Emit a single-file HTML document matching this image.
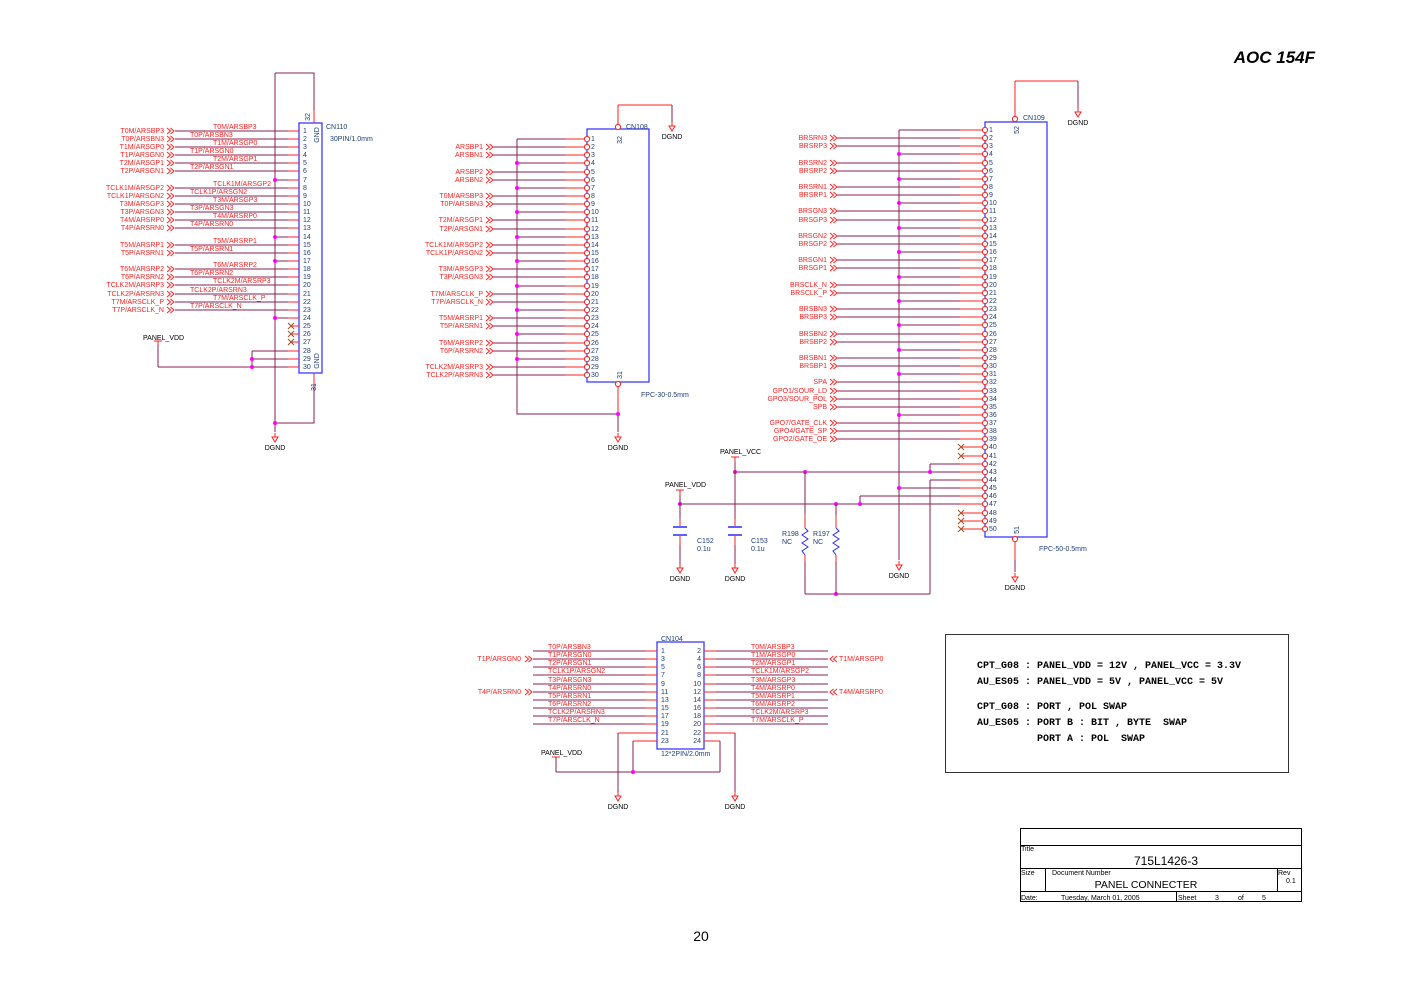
<!DOCTYPE html>
<html><head><meta charset="utf-8"><style>
html,body{margin:0;padding:0;background:#fff;}
svg{display:block;}
.w{stroke:#8a1f52;stroke-width:1;fill:none}
.r{stroke:#ff2020;stroke-width:1;fill:none}
.b{stroke:#3a3aff;stroke-width:1.3;fill:none}
text{font-family:"Liberation Sans",sans-serif;font-size:7px}
.t{fill:#ff2020}
.n{fill:#1f3c78}
.k{fill:#000}
.d{fill:#ff00ff}
.m{font-family:"Liberation Mono",monospace;font-weight:bold;font-size:10px;fill:#000}
</style></head><body>
<svg width="1404" height="992" viewBox="0 0 1404 992" xmlns="http://www.w3.org/2000/svg">
<defs>
<g id="ch" class="r"><path d="M0,-3 L3.5,0 L0,3 M3.5,-3 L7,0 L3.5,3"/></g>
<g id="chl" class="r"><path d="M0,-3 L-3.5,0 L0,3 M-3.5,-3 L-7,0 L-3.5,3"/></g>
<g id="gnd"><path class="r" d="M0,-4 L0,0 M-3,0 L3,0 L0,5 Z"/><text class="k" x="0" y="13" text-anchor="middle">DGND</text></g>
<g id="x"><path d="M-3,-3 L3,3 M-3,3 L3,-3" stroke="#a05020" stroke-width="1"/></g>
<circle id="pc" r="2.6" fill="#fff" stroke="#ff2020" stroke-width="1"/>
</defs>

<text x="1315" y="63" text-anchor="end" style="font-size:17px;font-weight:bold;font-style:italic">AOC  154F</text>
<text x="701" y="941" text-anchor="middle" style="font-size:14px">20</text>

<!-- ================= CN110 ================= -->
<rect class="b" x="299" y="123" width="23" height="250"/>
<path class="w" d="M275,73 L314,73 L314,110 M275,73 L275,432 M314,385 L314,423 L275,423"/>
<path class="r" d="M314,110 L314,123 M314,373 L314,385"/>
<use href="#gnd" x="275" y="437"/>
<circle class="d" cx="275" cy="423" r="2"/>
<text class="n" x="310" y="117" transform="rotate(-90 310 117)" text-anchor="middle">32</text>
<text class="n" x="316" y="387" transform="rotate(-90 316 387)" text-anchor="middle">31</text>
<text class="n" x="319" y="135" transform="rotate(-90 319 135)" text-anchor="middle">GND</text>
<text class="n" x="319" y="361" transform="rotate(-90 319 361)" text-anchor="middle">GND</text>
<text class="n" x="326" y="129">CN110</text>
<text class="n" x="330" y="141">30PIN/1.0mm</text>
<g class="w">
<path d="M175,131H288M175,139H288M175,147H288M175,155H288M175,163H288M175,171H288M275,180H288M175,188H288M175,196H288M175,204H288M175,212H288M175,220H288M175,228H288M275,237H288M175,245H288M175,253H288M275,261H288M175,269H288M175,277H288M175,285H288M175,294H288M175,302H288M175,310H288M275,318H288M252,351H288M252,359H288M158,367H288M252,351V367M158,345V367"/>
</g>
<path class="r" d="M288,131H299M288,139H299M288,147H299M288,155H299M288,163H299M288,171H299M288,180H299M288,188H299M288,196H299M288,204H299M288,212H299M288,220H299M288,228H299M288,237H299M288,245H299M288,253H299M288,261H299M288,269H299M288,277H299M288,285H299M288,294H299M288,302H299M288,310H299M288,318H299M291,326H299M291,334H299M291,342H299M288,351H299M288,359H299M288,367H299M154,341H162M158,341V345"/>
<use href="#x" x="291" y="326"/><use href="#x" x="291" y="334"/><use href="#x" x="291" y="342"/>
<g class="d"><circle cx="275" cy="180" r="2"/><circle cx="275" cy="237" r="2"/><circle cx="275" cy="261" r="2"/><circle cx="275" cy="318" r="2"/><circle cx="252" cy="359" r="2"/><circle cx="252" cy="367" r="2"/></g>
<text class="k" x="143" y="340">PANEL_VDD</text>
<g class="n">
<text x="303" y="133">1</text><text x="303" y="141">2</text><text x="303" y="149">3</text><text x="303" y="157">4</text><text x="303" y="165">5</text><text x="303" y="173">6</text><text x="303" y="182">7</text><text x="303" y="190">8</text><text x="303" y="198">9</text><text x="303" y="206">10</text><text x="303" y="214">11</text><text x="303" y="222">12</text><text x="303" y="230">13</text><text x="303" y="239">14</text><text x="303" y="247">15</text><text x="303" y="255">16</text><text x="303" y="263">17</text><text x="303" y="271">18</text><text x="303" y="279">19</text><text x="303" y="287">20</text><text x="303" y="296">21</text><text x="303" y="304">22</text><text x="303" y="312">23</text><text x="303" y="320">24</text><text x="303" y="328">25</text><text x="303" y="336">26</text><text x="303" y="344">27</text><text x="303" y="353">28</text><text x="303" y="361">29</text><text x="303" y="369">30</text>
</g>
<g>
<use href="#ch" x="167" y="131"/><use href="#ch" x="167" y="139"/><use href="#ch" x="167" y="147"/><use href="#ch" x="167" y="155"/><use href="#ch" x="167" y="163"/><use href="#ch" x="167" y="171"/><use href="#ch" x="167" y="188"/><use href="#ch" x="167" y="196"/><use href="#ch" x="167" y="204"/><use href="#ch" x="167" y="212"/><use href="#ch" x="167" y="220"/><use href="#ch" x="167" y="228"/><use href="#ch" x="167" y="245"/><use href="#ch" x="167" y="253"/><use href="#ch" x="167" y="269"/><use href="#ch" x="167" y="277"/><use href="#ch" x="167" y="285"/><use href="#ch" x="167" y="294"/><use href="#ch" x="167" y="302"/><use href="#ch" x="167" y="310"/>
</g>
<g class="t" text-anchor="end">
<text x="164" y="133">T0M/ARSBP3</text><text x="164" y="141">T0P/ARSBN3</text><text x="164" y="149">T1M/ARSGP0</text><text x="164" y="157">T1P/ARSGN0</text><text x="164" y="165">T2M/ARSGP1</text><text x="164" y="173">T2P/ARSGN1</text><text x="164" y="190">TCLK1M/ARSGP2</text><text x="164" y="198">TCLK1P/ARSGN2</text><text x="164" y="206">T3M/ARSGP3</text><text x="164" y="214">T3P/ARSGN3</text><text x="164" y="222">T4M/ARSRP0</text><text x="164" y="230">T4P/ARSRN0</text><text x="164" y="247">T5M/ARSRP1</text><text x="164" y="255">T5P/ARSRN1</text><text x="164" y="271">T6M/ARSRP2</text><text x="164" y="279">T6P/ARSRN2</text><text x="164" y="287">TCLK2M/ARSRP3</text><text x="164" y="296">TCLK2P/ARSRN3</text><text x="164" y="304">T7M/ARSCLK_P</text><text x="164" y="312">T7P/ARSCLK_N</text>
</g>
<g class="t">
<text x="213" y="129">T0M/ARSBP3</text><text x="190" y="137">T0P/ARSBN3</text><text x="213" y="145">T1M/ARSGP0</text><text x="190" y="153">T1P/ARSGN0</text><text x="213" y="161">T2M/ARSGP1</text><text x="190" y="169">T2P/ARSGN1</text><text x="213" y="186">TCLK1M/ARSGP2</text><text x="190" y="194">TCLK1P/ARSGN2</text><text x="213" y="202">T3M/ARSGP3</text><text x="190" y="210">T3P/ARSGN3</text><text x="213" y="218">T4M/ARSRP0</text><text x="190" y="226">T4P/ARSRN0</text><text x="213" y="243">T5M/ARSRP1</text><text x="190" y="251">T5P/ARSRN1</text><text x="213" y="267">T6M/ARSRP2</text><text x="190" y="275">T6P/ARSRN2</text><text x="213" y="283">TCLK2M/ARSRP3</text><text x="190" y="292">TCLK2P/ARSRN3</text><text x="213" y="300">T7M/ARSCLK_P</text><text x="190" y="308">T7P/ARSCLK_N</text>
</g>

<!-- ================= CN108 ================= -->
<rect class="b" x="587" y="129" width="62" height="253"/>
<path class="r" d="M618,105 L672,105 M618,105 L618,124 M618,387 L618,414"/>
<path class="w" d="M672,105 L672,122 M517,139 L517,414 L618,414 L618,432"/>
<use href="#gnd" x="672" y="126"/><use href="#gnd" x="618" y="437"/>
<use href="#pc" x="618" y="127"/><use href="#pc" x="618" y="384"/>
<circle class="d" cx="618" cy="414" r="2"/>
<text class="n" x="626" y="129">CN108</text>
<text class="n" x="641" y="397">FPC-30-0.5mm</text>
<text class="n" x="622" y="140" transform="rotate(-90 622 140)" text-anchor="middle">32</text>
<text class="n" x="622" y="375" transform="rotate(-90 622 375)" text-anchor="middle">31</text>
<path class="w" d="M517,139H565M493,147H565M493,155H565M517,163H565M493,172H565M493,180H565M517,188H565M493,196H565M493,204H565M517,212H565M493,220H565M493,229H565M517,237H565M493,245H565M493,253H565M517,261H565M493,269H565M493,277H565M517,286H565M493,294H565M493,302H565M517,310H565M493,318H565M493,326H565M517,334H565M493,343H565M493,351H565M517,359H565M493,367H565M493,375H565"/>
<path class="r" d="M565,139H584M565,147H584M565,155H584M565,163H584M565,172H584M565,180H584M565,188H584M565,196H584M565,204H584M565,212H584M565,220H584M565,229H584M565,237H584M565,245H584M565,253H584M565,261H584M565,269H584M565,277H584M565,286H584M565,294H584M565,302H584M565,310H584M565,318H584M565,326H584M565,334H584M565,343H584M565,351H584M565,359H584M565,367H584M565,375H584"/>
<g>
<use href="#pc" x="587" y="139"/><use href="#pc" x="587" y="147"/><use href="#pc" x="587" y="155"/><use href="#pc" x="587" y="163"/><use href="#pc" x="587" y="172"/><use href="#pc" x="587" y="180"/><use href="#pc" x="587" y="188"/><use href="#pc" x="587" y="196"/><use href="#pc" x="587" y="204"/><use href="#pc" x="587" y="212"/><use href="#pc" x="587" y="220"/><use href="#pc" x="587" y="229"/><use href="#pc" x="587" y="237"/><use href="#pc" x="587" y="245"/><use href="#pc" x="587" y="253"/><use href="#pc" x="587" y="261"/><use href="#pc" x="587" y="269"/><use href="#pc" x="587" y="277"/><use href="#pc" x="587" y="286"/><use href="#pc" x="587" y="294"/><use href="#pc" x="587" y="302"/><use href="#pc" x="587" y="310"/><use href="#pc" x="587" y="318"/><use href="#pc" x="587" y="326"/><use href="#pc" x="587" y="334"/><use href="#pc" x="587" y="343"/><use href="#pc" x="587" y="351"/><use href="#pc" x="587" y="359"/><use href="#pc" x="587" y="367"/><use href="#pc" x="587" y="375"/>
</g>
<g class="d"><circle cx="517" cy="163" r="2"/><circle cx="517" cy="188" r="2"/><circle cx="517" cy="212" r="2"/><circle cx="517" cy="237" r="2"/><circle cx="517" cy="261" r="2"/><circle cx="517" cy="286" r="2"/><circle cx="517" cy="310" r="2"/><circle cx="517" cy="334" r="2"/><circle cx="517" cy="359" r="2"/></g>
<g class="n">
<text x="591" y="141">1</text><text x="591" y="149">2</text><text x="591" y="157">3</text><text x="591" y="165">4</text><text x="591" y="174">5</text><text x="591" y="182">6</text><text x="591" y="190">7</text><text x="591" y="198">8</text><text x="591" y="206">9</text><text x="591" y="214">10</text><text x="591" y="222">11</text><text x="591" y="231">12</text><text x="591" y="239">13</text><text x="591" y="247">14</text><text x="591" y="255">15</text><text x="591" y="263">16</text><text x="591" y="271">17</text><text x="591" y="279">18</text><text x="591" y="288">19</text><text x="591" y="296">20</text><text x="591" y="304">21</text><text x="591" y="312">22</text><text x="591" y="320">23</text><text x="591" y="328">24</text><text x="591" y="336">25</text><text x="591" y="345">26</text><text x="591" y="353">27</text><text x="591" y="361">28</text><text x="591" y="369">29</text><text x="591" y="377">30</text>
</g>
<g>
<use href="#ch" x="486" y="147"/><use href="#ch" x="486" y="155"/><use href="#ch" x="486" y="172"/><use href="#ch" x="486" y="180"/><use href="#ch" x="486" y="196"/><use href="#ch" x="486" y="204"/><use href="#ch" x="486" y="220"/><use href="#ch" x="486" y="229"/><use href="#ch" x="486" y="245"/><use href="#ch" x="486" y="253"/><use href="#ch" x="486" y="269"/><use href="#ch" x="486" y="277"/><use href="#ch" x="486" y="294"/><use href="#ch" x="486" y="302"/><use href="#ch" x="486" y="318"/><use href="#ch" x="486" y="326"/><use href="#ch" x="486" y="343"/><use href="#ch" x="486" y="351"/><use href="#ch" x="486" y="367"/><use href="#ch" x="486" y="375"/>
</g>
<g class="t" text-anchor="end">
<text x="483" y="149">ARSBP1</text><text x="483" y="157">ARSBN1</text><text x="483" y="174">ARSBP2</text><text x="483" y="182">ARSBN2</text><text x="483" y="198">T0M/ARSBP3</text><text x="483" y="206">T0P/ARSBN3</text><text x="483" y="222">T2M/ARSGP1</text><text x="483" y="231">T2P/ARSGN1</text><text x="483" y="247">TCLK1M/ARSGP2</text><text x="483" y="255">TCLK1P/ARSGN2</text><text x="483" y="271">T3M/ARSGP3</text><text x="483" y="279">T3P/ARSGN3</text><text x="483" y="296">T7M/ARSCLK_P</text><text x="483" y="304">T7P/ARSCLK_N</text><text x="483" y="320">T5M/ARSRP1</text><text x="483" y="328">T5P/ARSRN1</text><text x="483" y="345">T6M/ARSRP2</text><text x="483" y="353">T6P/ARSRN2</text><text x="483" y="369">TCLK2M/ARSRP3</text><text x="483" y="377">TCLK2P/ARSRN3</text>
</g>

<!-- ================= CN109 ================= -->
<rect class="b" x="985" y="122" width="62" height="415"/>
<path class="r" d="M1015,81 L1078,81 M1015,81 L1015,117 M1015,542 L1015,560"/>
<path class="w" d="M1078,81 L1078,108 M1015,560 L1015,572"/>
<use href="#gnd" x="1078" y="112"/><use href="#gnd" x="1015" y="577"/>
<use href="#pc" x="1015" y="119"/><use href="#pc" x="1015" y="539"/>
<text class="n" x="1023" y="120">CN109</text>
<text class="n" x="1039" y="551">FPC-50-0.5mm</text>
<text class="n" x="1019" y="130" transform="rotate(-90 1019 130)" text-anchor="middle">52</text>
<text class="n" x="1019" y="530" transform="rotate(-90 1019 530)" text-anchor="middle">51</text>
<path class="w" d="M899,130 L899,560 M899,130H960M837,138H960M837,146H960M899,154H960M837,163H960M837,171H960M899,179H960M837,187H960M837,195H960M899,203H960M837,211H960M837,220H960M899,228H960M837,236H960M837,244H960M899,252H960M837,260H960M837,268H960M899,277H960M837,285H960M837,293H960M899,301H960M837,309H960M837,317H960M899,325H960M837,334H960M837,342H960M899,350H960M837,358H960M837,366H960M899,374H960M837,382H960M837,391H960M837,399H960M837,407H960M899,415H960M837,423H960M837,431H960M837,439H960M930,464H960M930,464V472M735,472H960M930,480H960M930,480V594M805,594H930M899,488H960M860,496H960M860,496V504M680,504H960"/>
<path class="r" d="M960,130H982M960,138H982M960,146H982M960,154H982M960,163H982M960,171H982M960,179H982M960,187H982M960,195H982M960,203H982M960,211H982M960,220H982M960,228H982M960,236H982M960,244H982M960,252H982M960,260H982M960,268H982M960,277H982M960,285H982M960,293H982M960,301H982M960,309H982M960,317H982M960,325H982M960,334H982M960,342H982M960,350H982M960,358H982M960,366H982M960,374H982M960,382H982M960,391H982M960,399H982M960,407H982M960,415H982M960,423H982M960,431H982M960,439H982M962,447H982M962,456H982M960,464H982M960,472H982M960,480H982M960,488H982M960,496H982M960,504H982M962,513H982M962,521H982M962,529H982"/>
<use href="#x" x="961" y="447"/><use href="#x" x="961" y="456"/><use href="#x" x="961" y="513"/><use href="#x" x="961" y="521"/><use href="#x" x="961" y="529"/>
<g>
<use href="#pc" x="985" y="130"/><use href="#pc" x="985" y="138"/><use href="#pc" x="985" y="146"/><use href="#pc" x="985" y="154"/><use href="#pc" x="985" y="163"/><use href="#pc" x="985" y="171"/><use href="#pc" x="985" y="179"/><use href="#pc" x="985" y="187"/><use href="#pc" x="985" y="195"/><use href="#pc" x="985" y="203"/><use href="#pc" x="985" y="211"/><use href="#pc" x="985" y="220"/><use href="#pc" x="985" y="228"/><use href="#pc" x="985" y="236"/><use href="#pc" x="985" y="244"/><use href="#pc" x="985" y="252"/><use href="#pc" x="985" y="260"/><use href="#pc" x="985" y="268"/><use href="#pc" x="985" y="277"/><use href="#pc" x="985" y="285"/><use href="#pc" x="985" y="293"/><use href="#pc" x="985" y="301"/><use href="#pc" x="985" y="309"/><use href="#pc" x="985" y="317"/><use href="#pc" x="985" y="325"/><use href="#pc" x="985" y="334"/><use href="#pc" x="985" y="342"/><use href="#pc" x="985" y="350"/><use href="#pc" x="985" y="358"/><use href="#pc" x="985" y="366"/><use href="#pc" x="985" y="374"/><use href="#pc" x="985" y="382"/><use href="#pc" x="985" y="391"/><use href="#pc" x="985" y="399"/><use href="#pc" x="985" y="407"/><use href="#pc" x="985" y="415"/><use href="#pc" x="985" y="423"/><use href="#pc" x="985" y="431"/><use href="#pc" x="985" y="439"/><use href="#pc" x="985" y="447"/><use href="#pc" x="985" y="456"/><use href="#pc" x="985" y="464"/><use href="#pc" x="985" y="472"/><use href="#pc" x="985" y="480"/><use href="#pc" x="985" y="488"/><use href="#pc" x="985" y="496"/><use href="#pc" x="985" y="504"/><use href="#pc" x="985" y="513"/><use href="#pc" x="985" y="521"/><use href="#pc" x="985" y="529"/>
</g>
<g class="d"><circle cx="899" cy="154" r="2"/><circle cx="899" cy="179" r="2"/><circle cx="899" cy="203" r="2"/><circle cx="899" cy="228" r="2"/><circle cx="899" cy="252" r="2"/><circle cx="899" cy="277" r="2"/><circle cx="899" cy="301" r="2"/><circle cx="899" cy="325" r="2"/><circle cx="899" cy="350" r="2"/><circle cx="899" cy="374" r="2"/><circle cx="899" cy="415" r="2"/><circle cx="899" cy="488" r="2"/><circle cx="930" cy="472" r="2"/><circle cx="805" cy="472" r="2"/><circle cx="735" cy="472" r="2"/><circle cx="860" cy="504" r="2"/><circle cx="836" cy="504" r="2"/><circle cx="680" cy="504" r="2"/><circle cx="836" cy="594" r="2"/></g>
<g class="n">
<text x="989" y="132">1</text><text x="989" y="140">2</text><text x="989" y="148">3</text><text x="989" y="156">4</text><text x="989" y="165">5</text><text x="989" y="173">6</text><text x="989" y="181">7</text><text x="989" y="189">8</text><text x="989" y="197">9</text><text x="989" y="205">10</text><text x="989" y="213">11</text><text x="989" y="222">12</text><text x="989" y="230">13</text><text x="989" y="238">14</text><text x="989" y="246">15</text><text x="989" y="254">16</text><text x="989" y="262">17</text><text x="989" y="270">18</text><text x="989" y="279">19</text><text x="989" y="287">20</text><text x="989" y="295">21</text><text x="989" y="303">22</text><text x="989" y="311">23</text><text x="989" y="319">24</text><text x="989" y="327">25</text><text x="989" y="336">26</text><text x="989" y="344">27</text><text x="989" y="352">28</text><text x="989" y="360">29</text><text x="989" y="368">30</text><text x="989" y="376">31</text><text x="989" y="384">32</text><text x="989" y="393">33</text><text x="989" y="401">34</text><text x="989" y="409">35</text><text x="989" y="417">36</text><text x="989" y="425">37</text><text x="989" y="433">38</text><text x="989" y="441">39</text><text x="989" y="449">40</text><text x="989" y="458">41</text><text x="989" y="466">42</text><text x="989" y="474">43</text><text x="989" y="482">44</text><text x="989" y="490">45</text><text x="989" y="498">46</text><text x="989" y="506">47</text><text x="989" y="515">48</text><text x="989" y="523">49</text><text x="989" y="531">50</text>
</g>
<g>
<use href="#ch" x="830" y="138"/><use href="#ch" x="830" y="146"/><use href="#ch" x="830" y="163"/><use href="#ch" x="830" y="171"/><use href="#ch" x="830" y="187"/><use href="#ch" x="830" y="195"/><use href="#ch" x="830" y="211"/><use href="#ch" x="830" y="220"/><use href="#ch" x="830" y="236"/><use href="#ch" x="830" y="244"/><use href="#ch" x="830" y="260"/><use href="#ch" x="830" y="268"/><use href="#ch" x="830" y="285"/><use href="#ch" x="830" y="293"/><use href="#ch" x="830" y="309"/><use href="#ch" x="830" y="317"/><use href="#ch" x="830" y="334"/><use href="#ch" x="830" y="342"/><use href="#ch" x="830" y="358"/><use href="#ch" x="830" y="366"/><use href="#ch" x="830" y="382"/><use href="#ch" x="830" y="391"/><use href="#ch" x="830" y="399"/><use href="#ch" x="830" y="407"/><use href="#ch" x="830" y="423"/><use href="#ch" x="830" y="431"/><use href="#ch" x="830" y="439"/>
</g>
<g class="t" text-anchor="end">
<text x="827" y="140">BRSRN3</text><text x="827" y="148">BRSRP3</text><text x="827" y="165">BRSRN2</text><text x="827" y="173">BRSRP2</text><text x="827" y="189">BRSRN1</text><text x="827" y="197">BRSRP1</text><text x="827" y="213">BRSGN3</text><text x="827" y="222">BRSGP3</text><text x="827" y="238">BRSGN2</text><text x="827" y="246">BRSGP2</text><text x="827" y="262">BRSGN1</text><text x="827" y="270">BRSGP1</text><text x="827" y="287">BRSCLK_N</text><text x="827" y="295">BRSCLK_P</text><text x="827" y="311">BRSBN3</text><text x="827" y="319">BRSBP3</text><text x="827" y="336">BRSBN2</text><text x="827" y="344">BRSBP2</text><text x="827" y="360">BRSBN1</text><text x="827" y="368">BRSBP1</text><text x="827" y="384">SPA</text><text x="827" y="393">GPO1/SOUR_LD</text><text x="827" y="401">GPO3/SOUR_POL</text><text x="827" y="409">SPB</text><text x="827" y="425">GPO7/GATE_CLK</text><text x="827" y="433">GPO4/GATE_SP</text><text x="827" y="441">GPO2/GATE_OE</text>
</g>

<!-- power / caps / resistors -->
<text class="k" x="720" y="454">PANEL_VCC</text>
<text class="k" x="665" y="487">PANEL_VDD</text>
<path class="r" d="M731,457H739M735,457V462M676,490H684M680,490V495M680,519V526M680,536V545M735,519V526M735,536V545M805,515V528M805,555V562M836,515V528M836,555V562"/>
<path class="w" d="M735,462V519M680,495V519M735,545V564M680,545V564M805,472V515M805,562V594M836,504V515M836,562V594"/>
<path stroke="#2a2aff" stroke-width="1.5" d="M673,527H687M673,535H687M728,527H742M728,535H742"/>
<path stroke="#2a2aff" stroke-width="1" fill="none" d="M805,528 L808,531 L802,535 L808,539 L802,543 L808,547 L802,551 L805,555 M836,528 L839,531 L833,535 L839,539 L833,543 L839,547 L833,551 L836,555"/>
<use href="#gnd" x="680" y="568"/><use href="#gnd" x="735" y="568"/><use href="#gnd" x="899" y="565"/>
<g class="n"><text x="697" y="543">C152</text><text x="697" y="551">0.1u</text><text x="751" y="543">C153</text><text x="751" y="551">0.1u</text><text x="782" y="536">R198</text><text x="782" y="544">NC</text><text x="813" y="536">R197</text><text x="813" y="544">NC</text></g>

<!-- ================= CN104 ================= -->
<rect class="b" x="657" y="642" width="47" height="107"/>
<text class="n" x="661" y="641">CN104</text>
<text class="n" x="661" y="756">12*2PIN/2.0mm</text>
<path class="w" d="M533,651H645M533,659H645M533,667H645M533,675H645M533,684H645M533,692H645M533,700H645M533,708H645M533,716H645M533,724H645M716,651H828M716,659H828M716,667H828M716,675H828M716,684H828M716,692H828M716,700H828M716,708H828M716,716H828M716,724H828M618,733V792M633,741V772M556,772H720M720,741V772M556,757V772M735,733V792"/>
<path class="r" d="M645,651H657M645,659H657M645,667H657M645,675H657M645,684H657M645,692H657M645,700H657M645,708H657M645,716H657M645,724H657M618,733H657M633,741H657M704,651H716M704,659H716M704,667H716M704,675H716M704,684H716M704,692H716M704,700H716M704,708H716M704,716H716M704,724H716M704,733H735M704,741H720M552,757H560"/>
<circle class="d" cx="633" cy="772" r="2"/>
<use href="#gnd" x="618" y="796"/><use href="#gnd" x="735" y="796"/>
<text class="k" x="541" y="755">PANEL_VDD</text>
<g class="n">
<text x="661" y="653">1</text><text x="661" y="661">3</text><text x="661" y="669">5</text><text x="661" y="677">7</text><text x="661" y="686">9</text><text x="661" y="694">11</text><text x="661" y="702">13</text><text x="661" y="710">15</text><text x="661" y="718">17</text><text x="661" y="726">19</text><text x="661" y="735">21</text><text x="661" y="743">23</text>
<g text-anchor="end"><text x="701" y="653">2</text><text x="701" y="661">4</text><text x="701" y="669">6</text><text x="701" y="677">8</text><text x="701" y="686">10</text><text x="701" y="694">12</text><text x="701" y="702">14</text><text x="701" y="710">16</text><text x="701" y="718">18</text><text x="701" y="726">20</text><text x="701" y="735">22</text><text x="701" y="743">24</text></g>
</g>
<g class="t">
<text x="548" y="649">T0P/ARSBN3</text><text x="548" y="657">T1P/ARSGN0</text><text x="548" y="665">T2P/ARSGN1</text><text x="548" y="673">TCLK1P/ARSGN2</text><text x="548" y="682">T3P/ARSGN3</text><text x="548" y="690">T4P/ARSRN0</text><text x="548" y="698">T5P/ARSRN1</text><text x="548" y="706">T6P/ARSRN2</text><text x="548" y="714">TCLK2P/ARSRN3</text><text x="548" y="722">T7P/ARSCLK_N</text>
<text x="751" y="649">T0M/ARSBP3</text><text x="751" y="657">T1M/ARSGP0</text><text x="751" y="665">T2M/ARSGP1</text><text x="751" y="673">TCLK1M/ARSGP2</text><text x="751" y="682">T3M/ARSGP3</text><text x="751" y="690">T4M/ARSRP0</text><text x="751" y="698">T5M/ARSRP1</text><text x="751" y="706">T6M/ARSRP2</text><text x="751" y="714">TCLK2M/ARSRP3</text><text x="751" y="722">T7M/ARSCLK_P</text>
<text x="521" y="661" text-anchor="end">T1P/ARSGN0</text><text x="521" y="694" text-anchor="end">T4P/ARSRN0</text>
<text x="839" y="661">T1M/ARSGP0</text><text x="839" y="694">T4M/ARSRP0</text>
</g>
<use href="#ch" x="525" y="659"/><use href="#ch" x="525" y="692"/>
<use href="#chl" x="837" y="659"/><use href="#chl" x="837" y="692"/>

<!-- notes -->
<rect x="945.5" y="634.5" width="343" height="138" fill="none" stroke="#333" stroke-width="1"/>
<text class="m" x="977" y="668" xml:space="preserve">CPT_G08 : PANEL_VDD = 12V , PANEL_VCC = 3.3V</text>
<text class="m" x="977" y="684" xml:space="preserve">AU_ES05 : PANEL_VDD = 5V , PANEL_VCC = 5V</text>
<text class="m" x="977" y="709" xml:space="preserve">CPT_G08 : PORT , POL SWAP</text>
<text class="m" x="977" y="725" xml:space="preserve">AU_ES05 : PORT B : BIT , BYTE  SWAP</text>
<text class="m" x="977" y="741" xml:space="preserve">          PORT A : POL  SWAP</text>

<!-- title block -->
<g fill="none" stroke="#000" stroke-width="1">
<rect x="1020.5" y="828.5" width="281" height="73"/>
<path d="M1020,845.5H1302M1020,868.5H1302M1020,891.5H1302M1045.5,868V891M1277.5,868V891M1176.5,891V902"/>
</g>
<g class="k" style="font-size:6px">
<text x="1021" y="851">Title</text><text x="1021" y="875">Size</text><text x="1052" y="875">Document Number</text><text x="1278" y="875">Rev</text><text x="1286" y="883">0.1</text>
<text x="1021" y="900">Date:</text><text x="1061" y="900">Tuesday, March 01, 2005</text><text x="1178" y="900">Sheet</text><text x="1215" y="900">3</text><text x="1238" y="900">of</text><text x="1262" y="900">5</text>
</g>
<text class="k" x="1166" y="865" text-anchor="middle" style="font-size:12px">715L1426-3</text>
<text class="k" x="1146" y="888" text-anchor="middle" style="font-size:10.5px">PANEL CONNECTER</text>
</svg>
</body></html>
